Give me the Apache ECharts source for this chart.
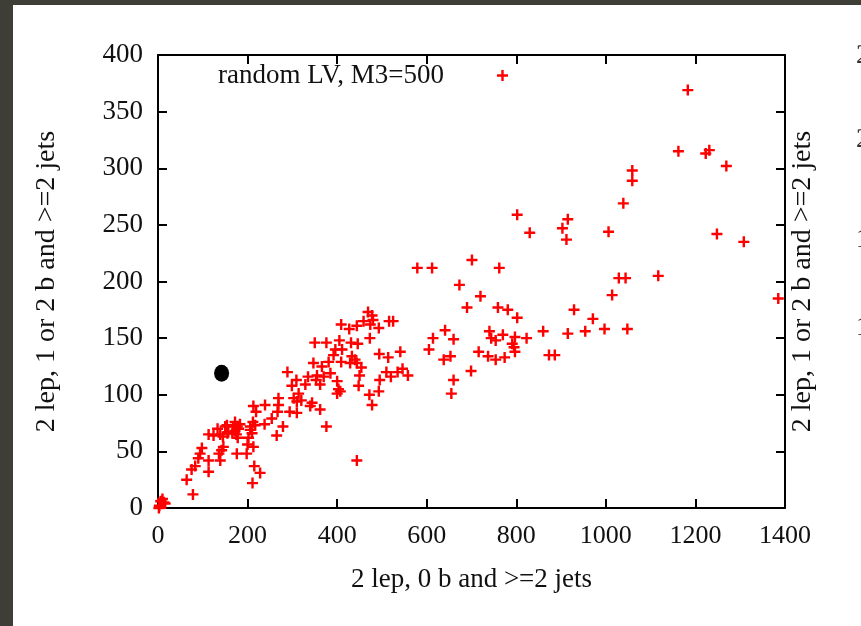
<!DOCTYPE html>
<html>
<head>
<meta charset="utf-8">
<script src="https://cdn.jsdelivr.net/npm/echarts@6/dist/echarts.min.js"></script>
<style>
html,body{margin:0;padding:0;background:#3e3e36;}
#chart{width:861px;height:626px;}
</style>
</head>
<body>
<div id="chart"></div>
<script>
// ---- data ----
const seriesName = 'random LV, M3=500';
const xAxisTitle = '2 lep, 0 b and >=2 jets';
const yAxisTitle = '2 lep, 1 or 2 b and >=2 jets';
const xTickInterval = 200, xMin = 0, xMax = 1400;
const yTickInterval = 50, yMin = 0, yMax = 400;
const neighbourTickLabels = ['250', '200', '150', '100'];

// red "+" points [x, y]
const lvPoints = [
  [1183,369],[1162,315],[1223,313],[1231,316],[1269,302],[1059,298],[1059,289],[1039,269],
  [802,259],[915,255],[903,247],[912,237],[830,243],[1006,244],[1248,242],[1308,235],
  [579,212],[612,212],[701,219],[762,212],[1117,205],[1029,203],[1044,203],[673,197],
  [720,187],[1014,188],[1385,185],[690,177],[759,177],[781,175],[929,175],[802,168],
  [971,167],[860,156],[915,154],[954,156],[997,158],[1048,158],[641,157],[614,150],
  [605,140],[660,149],[638,131],[653,134],[699,121],[660,113],[655,101],[716,138],
  [740,156],[744,150],[754,148],[770,153],[797,151],[823,150],[791,145],[795,142],
  [737,134],[754,131],[774,133],[797,138],[873,135],[886,135],
  [469,173],[478,170],[480,166],[409,162],[427,158],[444,161],[459,165],[474,162],
  [493,159],[516,165],[525,165],[473,150],[350,146],[376,146],[405,148],[431,146],
  [446,145],[396,140],[411,140],[392,135],[433,134],[440,131],[444,128],[454,124],
  [429,128],[409,129],[381,129],[347,128],[366,125],[370,116],[385,119],[355,117],
  [353,113],[362,109],[335,116],[329,109],[299,108],[309,113],[289,120],[450,117],
  [448,108],[494,136],[514,133],[541,138],[510,120],[520,116],[535,120],[546,123],
  [558,117],[495,113],[472,100],[493,103],[478,91],[400,112],[403,105],[400,101],
  [407,103],[303,97],[314,101],[320,95],[310,94],[344,93],[362,87],[340,90],
  [269,97],[269,91],[267,85],[294,85],[310,84],[239,91],[213,90],[219,85],
  [254,79],[154,73],[172,76],[177,72],[212,76],[206,72],[238,74],[279,72],
  [376,72],[265,64],
  [217,73],[206,69],[210,66],[202,62],[213,54],[198,48],[200,56],
  [168,72],[172,68],[175,65],[180,70],[183,74],[178,62],[166,66],[150,72],
  [155,66],[145,63],[157,67],[133,70],[139,65],[113,65],[124,64],[146,54],
  [142,51],[139,42],[136,48],[176,48],[113,42],[113,32],[98,53],[94,48],
  [90,44],[83,37],[75,34],[64,25],[78,12],[215,37],[211,22],[228,31],[444,42],
  [3,2],[6,6],[10,8],[13,5],[16,4],[2,0]
];
// black reference point
const refPoints = [[142,119]];

// ---- styles ----
const serif = 'Liberation Serif';
const plusPath = 'path://M3.9,0H6.1V3.9H10V6.1H6.1V10H3.9V6.1H0V3.9H3.9Z';
const axisLineStyle = {color:'#000', width:2};
function tick(){ return {inside:true, length:9, lineStyle:{color:'#000', width:2}}; }
function line(){ return {show:true, onZero:false, lineStyle:axisLineStyle}; }
const plain = v => String(v);

const chart = echarts.init(document.getElementById('chart'), null, {renderer:'canvas'});
const option = {
  animation:false,
  backgroundColor:'#3e3e36',
  graphic:[
    {type:'rect', z:-10, silent:true, shape:{x:13, y:5, width:848, height:621}, style:{fill:'#ffffff'}},
    ...neighbourTickLabels.map((t,i)=>({
      type:'text', silent:true, x:856, y:[56,140,240,328][i],
      style:{text:t, font:'27px "Liberation Serif"', fill:'#333', verticalAlign:'middle', align:'left'}
    }))
  ],
  grid:{left:158, right:76, top:55, bottom:118, containLabel:false},
  legend:{
    data:[seriesName], left:218, top:62, padding:0, align:'right',
    itemWidth:11, itemHeight:11, icon:plusPath,
    itemStyle:{color:'#ff0000'},
    textStyle:{fontFamily:serif, fontSize:27, color:'#111', padding:[0,48,0,0]}
  },
  xAxis:[
    {type:'value', min:xMin, max:xMax, interval:xTickInterval, position:'bottom',
     axisLine:line(), axisTick:tick(),
     axisLabel:{margin:15, fontFamily:serif, fontSize:26, color:'#111', formatter:plain},
     splitLine:{show:false},
     name:xAxisTitle, nameLocation:'middle', nameGap:58,
     nameTextStyle:{fontFamily:serif, fontSize:27, color:'#111'}},
    {type:'value', min:xMin, max:xMax, interval:xTickInterval, position:'top',
     axisLine:line(), axisTick:tick(),
     axisLabel:{show:false}, splitLine:{show:false}}
  ],
  yAxis:[
    {type:'value', min:yMin, max:yMax, interval:yTickInterval, position:'left',
     axisLine:line(), axisTick:tick(),
     axisLabel:{margin:15, fontFamily:serif, fontSize:27, color:'#111', formatter:plain},
     splitLine:{show:false},
     name:yAxisTitle, nameLocation:'middle', nameGap:97, nameRotate:90,
     nameTextStyle:{fontFamily:serif, fontSize:28, color:'#111'}},
    {type:'value', min:yMin, max:yMax, interval:yTickInterval, position:'right',
     axisLine:line(), axisTick:tick(),
     axisLabel:{show:false}, splitLine:{show:false},
     name:yAxisTitle, nameLocation:'middle', nameGap:4, nameRotate:90,
     nameTextStyle:{fontFamily:serif, fontSize:28, color:'#111'}}
  ],
  series:[
    {name:seriesName, type:'scatter', xAxisIndex:0, yAxisIndex:0,
     symbol:plusPath, symbolSize:11, itemStyle:{color:'#ff0000', opacity:1},
     data:lvPoints},
    {name:'reference', type:'scatter', xAxisIndex:0, yAxisIndex:0,
     symbol:'circle', symbolSize:[15,17], itemStyle:{color:'#000000', opacity:1},
     data:refPoints, z:3}
  ]
};
chart.setOption(option);
</script>
</body>
</html>
